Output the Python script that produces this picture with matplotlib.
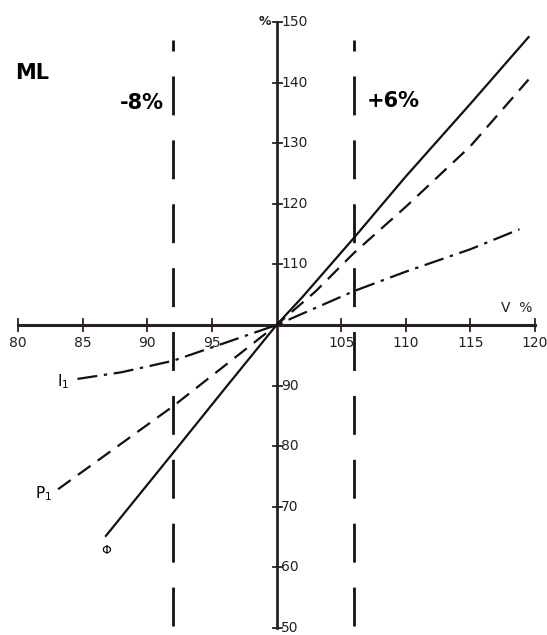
import matplotlib.pyplot as plt

# dane (V % -> %)
phi_x = [86.8, 92, 96, 100, 102, 106, 110, 115, 119.5]
phi_y = [65.2, 78.9, 89.5, 100, 104.6, 114.4, 124.5, 136.5, 147.5]

p_x = [83.1, 92, 100, 103, 106, 110, 115, 119.5]
p_y = [72.9, 86.6, 100, 105.5, 111.9, 119.5, 129.5, 140.5]

i_x = [84.6, 88, 92, 95, 100, 106, 110, 115, 118.8]
i_y = [91.1, 92.2, 94.1, 96.3, 100, 105.6, 108.8, 112.5, 115.8]

x_ticks = [80, 85, 90, 95, 105, 110, 115, 120]
y_ticks = [50, 60, 70, 80, 90, 110, 120, 130, 140, 150]
granice = [92, 106]

fig = plt.figure(figsize=(5.47, 6.35), dpi=100)
ax = fig.add_axes([18 / 547, 7 / 635, (535 - 18) / 547, (628 - 22) / 635])
ax.set_xlim(80, 120)
ax.set_ylim(50, 150)
ax.axis("off")

# osie
ax.plot([80, 120], [100, 100], color="#2a2028", lw=2.2, clip_on=False)
ax.plot([100, 100], [50, 150], color="#2a2028", lw=2.0, clip_on=False)

for t in x_ticks:
    ax.plot([t, t], [99.0, 101.0], color="#2a2028", lw=1.3, clip_on=False)
    ax.text(t, 98.2, str(t), ha="center", va="top", fontsize=10, color="#222")
for t in y_ticks:
    ax.plot([99.7, 100.4], [t, t], color="#2a2028", lw=1.3, clip_on=False)
    ax.text(100.35, t, str(t), ha="left", va="center", fontsize=10, color="#222")

ax.text(99.6, 150, "%", ha="right", va="center", fontsize=9, fontweight="bold", color="#222")
ax.text(118.6, 101.6, "V  %", ha="center", va="bottom", fontsize=10, color="#222")

# granice -8% / +6%
for g in granice:
    ax.plot([g, g], [50.3, 147], color="#111", lw=2.0, dashes=(14, 9), clip_on=False)

# krzywe
ax.plot(phi_x, phi_y, color="#111", lw=1.6, clip_on=False)
ax.plot(p_x, p_y, color="#111", lw=1.6, dashes=(7, 4), clip_on=False)
ax.plot(i_x, i_y, color="#111", lw=1.6, dashes=(9, 3, 1.5, 3), clip_on=False)

# opisy
ax.text(79.8, 141.6, "ML", ha="left", va="center", fontsize=15, fontweight="bold")
ax.text(91.3, 136.6, "-8%", ha="right", va="center", fontsize=15, fontweight="bold")
ax.text(107.0, 137.0, "+6%", ha="left", va="center", fontsize=15, fontweight="bold")
ax.text(84.0, 90.6, "I$_1$", ha="right", va="center", fontsize=11)
ax.text(82.6, 72.2, "P$_1$", ha="right", va="center", fontsize=11)
ax.text(86.8, 62.8, "Φ", ha="center", va="center", fontsize=9)

fig.savefig("out.png", dpi=100)
